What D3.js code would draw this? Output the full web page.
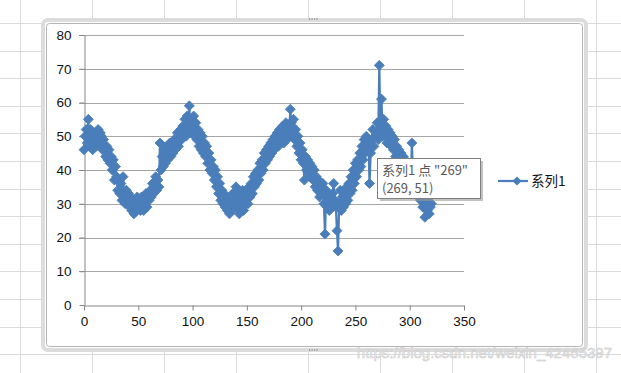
<!DOCTYPE html>
<html>
<head>
<meta charset="utf-8">
<script src="https://cdn.jsdelivr.net/npm/d3@7"></script>
<style>
  body { margin: 0; background: #fff; }
  svg { display: block; }
</style>
</head>
<body>
<div id="chart"></div>
<script>
(function() {

  // series 1, x = 0 .. 320 (one value per x)
  var seriesName = "系列1";
  var values = [
    46, 50, 52, 48, 55, 47, 52, 49, 46, 51,
    50, 47, 49, 52, 48, 51, 50, 46, 49, 47,
    44, 47, 43, 46, 42, 44, 40, 43, 37, 41,
    38, 34, 37, 33, 36, 31, 38, 32, 30, 34,
    31, 33, 29, 32, 28, 30, 27, 31, 29, 32,
    29, 31, 28, 32, 30, 28, 31, 33, 29, 32,
    31, 34, 32, 36, 33, 35, 38, 34, 37, 35,
    48, 40, 44, 41, 46, 42, 47, 43, 45, 48,
    44, 47, 45, 49, 46, 48, 51, 47, 50, 52,
    49, 53, 51, 55, 50, 56, 53, 59, 51, 55,
    52, 56, 50, 54, 49, 52, 47, 51, 46, 50,
    45, 48, 44, 47, 42, 45, 40, 43, 39, 41,
    37, 40, 35, 38, 33, 36, 31, 34, 30, 33,
    29, 32, 28, 31, 27, 30, 28, 33, 29, 31,
    35, 29, 33, 27, 31, 29, 34, 28, 32, 30,
    33, 30, 35, 32, 36, 33, 38, 35, 39, 36,
    40, 37, 42, 39, 43, 40, 45, 42, 46, 43,
    47, 44, 48, 45, 49, 46, 50, 48, 51, 47,
    52, 49, 50, 53, 48, 51, 54, 49, 52, 50,
    58, 54, 51, 55, 49, 52, 47, 50, 45, 48,
    43, 46, 42, 37, 44, 40, 43, 39, 42, 38,
    41, 37, 40, 35, 38, 34, 37, 32, 35, 33,
    36, 30, 21, 34, 29, 32, 28, 31, 30, 33,
    36, 31, 29, 22, 16, 30, 34, 28, 32, 29,
    33, 30, 35, 31, 36, 33, 38, 34, 40, 36,
    42, 38, 43, 40, 45, 41, 47, 43, 49, 45,
    50, 46, 48, 36, 45, 49, 52, 47, 50, 51,
    54, 49, 71, 52, 61, 50, 55, 51, 53, 48,
    52, 49, 51, 47, 50, 46, 49, 44, 47, 43,
    46, 42, 45, 41, 44, 40, 43, 38, 42, 37,
    41, 36, 48, 38, 35, 39, 33, 37, 32, 35,
    31, 34, 29, 32, 26, 30, 28, 31, 27, 29,
    30
  ];
  var xTicks = [0, 50, 100, 150, 200, 250, 300, 350];
  var yTicks = [0, 10, 20, 30, 40, 50, 60, 70, 80];
  var tipLines = ['系列1 点 "269"', '(269, 51)'];
  var watermark = "https://blog.csdn.net/weixin_42465397";

  var width = 621, height = 373;
  var blue = "#4a7ebb";

  var svg = d3.select("#chart")
        .append("svg")
        .attr("width", width)
        .attr("height", height);

  // spreadsheet cells behind the chart
  var cells = svg.append("g");
  d3.range(20, width, 72).forEach(function(x) {
    cells.append("line").attr("x1", x + 0.5).attr("x2", x + 0.5)
      .attr("y1", 0).attr("y2", height)
      .attr("stroke", "#dadada");
  });
  d3.range(23, height, 27.6).forEach(function(y) {
    cells.append("line").attr("x1", 0).attr("x2", width)
      .attr("y1", Math.round(y) + 0.5).attr("y2", Math.round(y) + 0.5)
      .attr("stroke", "#dadada");
  });

  // chart frame (selected)
  svg.append("rect")
    .attr("x", 43).attr("y", 20).attr("width", 543).attr("height", 330)
    .attr("rx", 5)
    .attr("fill", "#fff")
    .attr("stroke", "#dcdcdc").attr("stroke-width", 4);
  svg.append("rect")
    .attr("x", 46.5).attr("y", 23.5).attr("width", 536).attr("height", 323)
    .attr("rx", 3)
    .attr("fill", "#fff")
    .attr("stroke", "#b4b4b4").attr("stroke-width", 1);
  [[313, 19], [313, 350]].forEach(function(p) {
    svg.append("g").selectAll("rect")
      .data([-4, -1.5, 1, 3.5]).enter().append("rect")
      .attr("x", function(d) { return p[0] + d; })
      .attr("y", p[1] - 1)
      .attr("width", 1.2).attr("height", 2)
      .attr("fill", "#a0a0a0");
  });

  var x = d3.scaleLinear().domain([0, 350]).range([84, 464]);
  var y = d3.scaleLinear().domain([0, 80]).range([305, 35]);

  // gridlines
  svg.append("g").selectAll("line")
    .data(yTicks.slice(1)).enter().append("line")
    .attr("x1", 79).attr("x2", 464)
    .attr("y1", function(d) { return Math.round(y(d)) + 0.5; })
    .attr("y2", function(d) { return Math.round(y(d)) + 0.5; })
    .attr("stroke", "#a6a6a6").attr("stroke-width", 1);

  // axes
  var yAxis = svg.append("g")
    .attr("transform", "translate(84.5,0)")
    .call(d3.axisLeft(y).tickValues(yTicks).tickSize(5).tickSizeOuter(0).tickPadding(8));
  var xAxis = svg.append("g")
    .attr("transform", "translate(0," + (Math.round(y(0)) + 0.5) + ")")
    .call(d3.axisBottom(x).tickValues(xTicks).tickSize(5).tickSizeOuter(0).tickPadding(6));

  [yAxis, xAxis].forEach(function(a) {
    a.select(".domain").attr("stroke", "#868686");
    a.selectAll(".tick line").attr("stroke", "#868686");
    a.selectAll(".tick text")
      .attr("fill", "#111")
      .style("font-family", "'Liberation Sans', Arial, sans-serif")
      .style("font-size", "13.5px");
  });

  // series
  var line = d3.line()
    .x(function(d, i) { return x(i); })
    .y(function(d) { return y(d); });

  svg.append("path")
    .datum(values)
    .attr("d", line)
    .attr("fill", "none")
    .attr("stroke", blue)
    .attr("stroke-width", 2.25)
    .attr("stroke-linejoin", "round");

  var diamond = d3.symbol().type(d3.symbolSquare).size(50);

  svg.append("g").selectAll("path")
    .data(values).enter().append("path")
    .attr("d", diamond)
    .attr("transform", function(d, i) {
      return "translate(" + x(i) + "," + y(d) + ") rotate(45)";
    })
    .attr("fill", blue)
    .attr("stroke", blue)
    .attr("stroke-width", 0.8);

  // legend
  var legend = svg.append("g").attr("transform", "translate(498,181)");
  legend.append("line")
    .attr("x1", 0).attr("x2", 30).attr("y1", 0).attr("y2", 0)
    .attr("stroke", blue).attr("stroke-width", 2.25);
  legend.append("path")
    .attr("d", d3.symbol().type(d3.symbolSquare).size(42))
    .attr("transform", "translate(19,0) rotate(45)")
    .attr("fill", blue);
  legend.append("text")
    .attr("x", 33).attr("y", 5)
    .attr("fill", "#111")
    .style("font-family", "'Noto Sans CJK SC', sans-serif")
    .style("font-size", "13.5px")
    .text(seriesName);

  // data tip
  var tip = svg.append("g").attr("transform", "translate(377,158)");
  tip.append("rect")
    .attr("x", 3).attr("y", 3).attr("width", 103).attr("height", 40)
    .attr("fill", "#9a9a9a").attr("opacity", 0.6);
  tip.append("rect")
    .attr("x", 0.5).attr("y", 0.5).attr("width", 103).attr("height", 40)
    .attr("fill", "#fff")
    .attr("stroke", "#7f7f7f").attr("stroke-width", 1);
  tip.selectAll("text")
    .data(tipLines).enter().append("text")
    .attr("x", 5)
    .attr("y", function(d, i) { return 17 + i * 18; })
    .attr("fill", "#595959")
    .style("font-family", "'Noto Sans CJK SC', 'Liberation Sans', sans-serif")
    .style("font-size", "13px")
    .text(function(d) { return d; });

  // watermark
  svg.append("text")
    .attr("x", 612).attr("y", 358)
    .attr("text-anchor", "end")
    .attr("fill", "#eeeeee")
    .attr("stroke", "#c8c8c8").attr("stroke-width", 0.5)
    .style("font-family", "'Liberation Sans', Arial, sans-serif")
    .style("font-size", "15px")
    .text(watermark);

})();
</script>
</body>
</html>
